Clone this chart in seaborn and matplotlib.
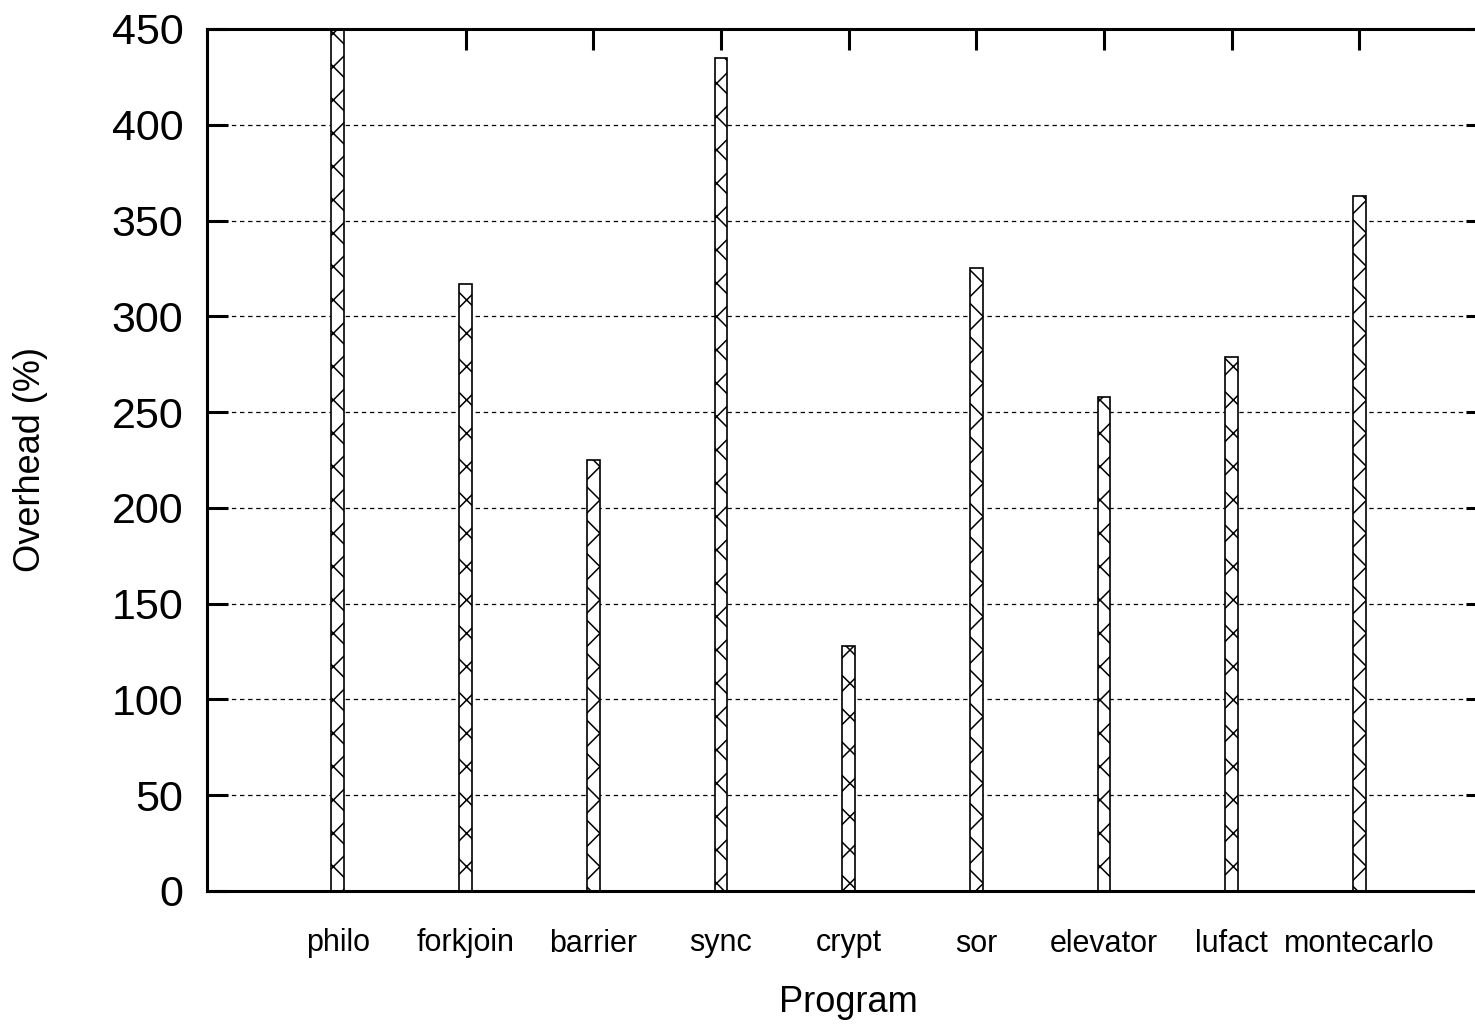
import matplotlib
matplotlib.use("Agg")
import matplotlib.pyplot as plt
import seaborn as sns
import pandas as pd

# ── Data ──────────────────────────────────────────────────────────────────────
programs = ["philo", "forkjoin", "barrier", "sync", "crypt",
            "sor", "elevator", "lufact", "montecarlo"]
overhead = [460, 317, 225, 435, 128, 325, 258, 279, 363]
y_ticks = [0, 50, 100, 150, 200, 250, 300, 350, 400, 450]

df = pd.DataFrame({"Program": programs, "Overhead": overhead})

sns.set_style("ticks")
plt.rcParams["font.family"] = ["Liberation Sans", "DejaVu Sans"]
plt.rcParams["hatch.linewidth"] = 1.1
plt.rcParams["hatch.color"] = "#3a3a3a"
plt.rcParams["text.color"] = "black"
plt.rcParams["axes.labelcolor"] = "black"
plt.rcParams["xtick.color"] = "black"
plt.rcParams["ytick.color"] = "black"

fig = plt.figure(figsize=(14.75, 10.25), dpi=100)
# axes box in figure coords; the right border falls just outside the image
ax = fig.add_axes([207 / 1475, 1 - 891 / 1025, 1280 / 1475, 862 / 1025])

sns.barplot(data=df, x="Program", y="Overhead", ax=ax, width=0.1,
            color="white", edgecolor="black", linewidth=1.2,
            hatch="x", zorder=3, saturation=1)

ax.set_ylim(0, 450)
ax.set_xlim(-1.025, 9)
ax.set_yticks(y_ticks)

# gnuplot look: dashed grid, mirrored inward ticks
ax.yaxis.grid(True, linestyle=(0, (3.5, 3)), color="black", linewidth=0.9, zorder=0)
ax.set_axisbelow(True)
for s in ax.spines.values():
    s.set_linewidth(2.2)
    s.set_color("black")
    s.set_zorder(5)

ax.tick_params(axis="y", direction="in", length=15, width=2.2, right=True,
               labelsize=31, pad=17, labelcolor="black")
ax.tick_params(axis="x", direction="in", length=15, width=2.2, top=True,
               bottom=True, labelsize=22, pad=27, labelcolor="black")

ax.set_xlabel("Program", fontsize=26, color="black")
ax.set_ylabel("Overhead (%)", fontsize=26, color="black")
ax.xaxis.set_label_coords((848 - 207) / 1280, (891 - 1003) / 862)
ax.yaxis.set_label_coords((30 - 207) / 1280, 0.5)
ax.xaxis.label.set_va("center")
ax.yaxis.label.set_va("center")

fig.savefig("out.png", dpi=100)
